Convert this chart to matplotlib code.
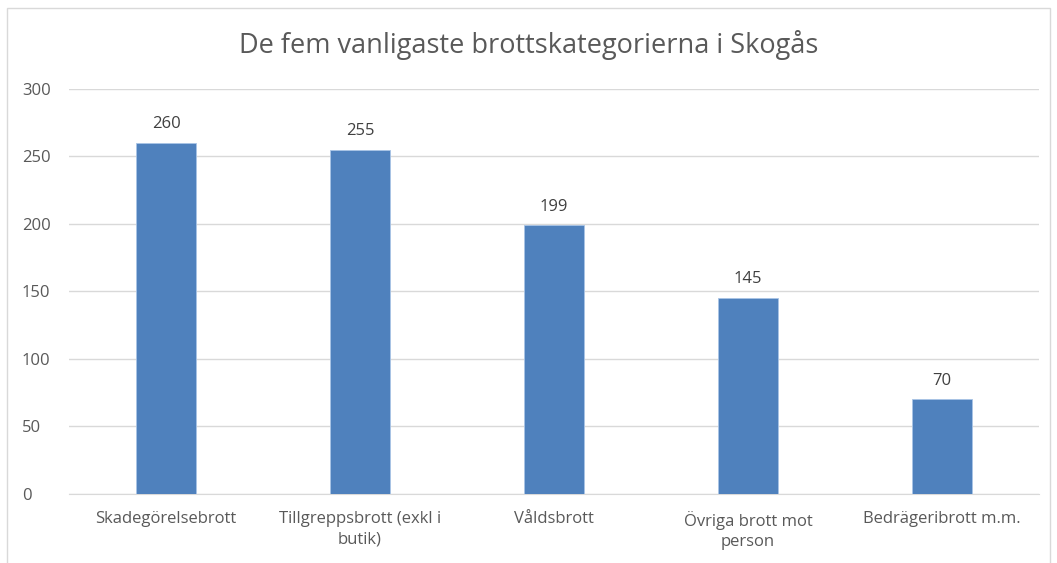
import matplotlib.pyplot as plt
import matplotlib.patches as mpatches

categories = [
    "Skadegörelsebrott",
    "Tillgreppsbrott (exkl i\nbutik)",
    "Våldsbrott",
    "Övriga brott mot\nperson",
    "Bedrägeribrott m.m.",
]
values = [260, 255, 199, 145, 70]
yticks = [0, 50, 100, 150, 200, 250, 300]

text_color = "#595959"
grid_color = "#D9D9D9"
bar_color = "#4F81BD"

plt.rcParams["font.family"] = ["Open Sans", "DejaVu Sans"]

fig = plt.figure(figsize=(10.57, 5.63), dpi=100)
ax = fig.add_axes([0.0653, 0.1226, 0.9177, 0.7194])

# light frame around the chart area
frame = mpatches.Rectangle(
    (7 / 1057, -0.05), 1043 / 1057, 1.05 - 8 / 563,
    transform=fig.transFigure, fill=False, edgecolor=grid_color, linewidth=1,
)
fig.patches.append(frame)

x = range(len(categories))
bars = ax.bar(x, values, width=0.31, color=bar_color, edgecolor="#A9C4E6", linewidth=0.6, zorder=3)
for rect, v in zip(bars, values):
    ax.text(
        rect.get_x() + rect.get_width() / 2, v + 8, str(v),
        ha="center", va="bottom", fontsize=12, color="#404040",
    )

ax.set_xlim(-0.5, len(categories) - 0.5)
ax.set_ylim(0, 300)
ax.set_yticks(yticks)
ax.set_xticks(list(x))
ax.set_xticklabels(categories, linespacing=1.4)
ax.yaxis.grid(True, color=grid_color, linewidth=1)
ax.set_axisbelow(True)
for side in ["top", "right", "left"]:
    ax.spines[side].set_visible(False)
ax.spines["bottom"].set_color(grid_color)
ax.tick_params(axis="both", length=0, labelsize=12, colors=text_color)
ax.tick_params(axis="y", pad=34)
ax.tick_params(axis="x", pad=12)
for lbl in ax.get_yticklabels():
    lbl.set_horizontalalignment("left")

fig.text(0.5, 1 - 45 / 563, "De fem vanligaste brottskategorierna i Skogås",
         ha="center", va="center", fontsize=19.5, color=text_color)

fig.savefig("out.png", dpi=100)
